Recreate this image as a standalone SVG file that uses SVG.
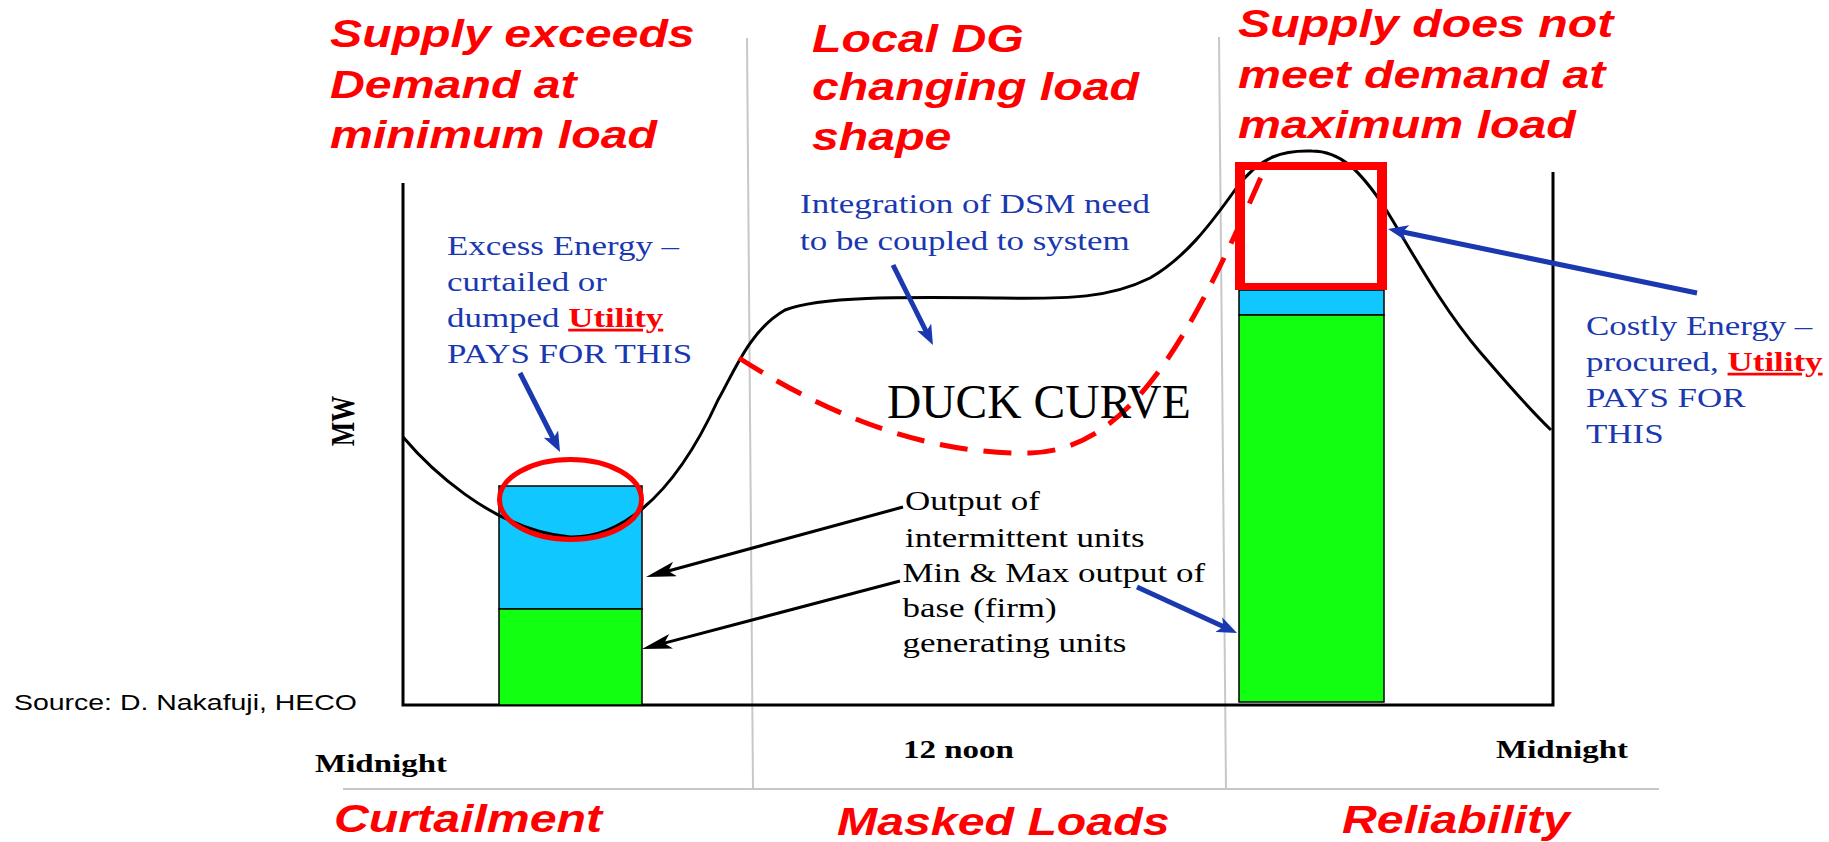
<svg xmlns="http://www.w3.org/2000/svg" width="1829" height="842" viewBox="0 0 1829 842">
<defs>
<style>
.title{font-family:"Liberation Sans",Arial,sans-serif;font-weight:bold;font-style:italic;font-size:38px;fill:#ff0000}
.blue{font-family:"Liberation Serif","Times New Roman",serif;font-size:27.5px;fill:#1a38b0}
.black{font-family:"Liberation Serif","Times New Roman",serif;font-size:27.5px;fill:#000}
.util{fill:#ff0000;font-weight:bold;text-decoration:underline}
.axislbl{font-family:"Liberation Serif","Times New Roman",serif;font-weight:bold;font-size:26px;fill:#000}
.divider{stroke:#c8c8c8;stroke-width:2;fill:none}
.barline{stroke:#000;stroke-width:1.5}
.cyan{fill:#10c8ff}
.green{fill:#12ff12}
.barrow{stroke:#1a38b0;stroke-width:5;fill:none}
.karrow{stroke:#000;stroke-width:3;fill:none}
</style>
<marker id="bhead" markerUnits="userSpaceOnUse" markerWidth="20" markerHeight="16" refX="6" refY="8" orient="auto"><path d="M0,0 L20,8 L0,16 L5,8 Z" fill="#1a38b0"/></marker>
<marker id="khead" markerUnits="userSpaceOnUse" markerWidth="30" markerHeight="15" refX="8" refY="7.5" orient="auto"><path d="M0,0 L30,7.5 L0,15 L7,7.5 Z" fill="#000"/></marker>
</defs>
<rect width="1829" height="842" fill="#fff"/>

<g id="dividers">
<path class="divider" d="M747 38 L753 789"/>
<path class="divider" d="M1219 37 L1226 789"/>
<path class="divider" d="M343 789 H1659"/>
</g>

<g id="axes">
<path d="M403 183 V705 H1553 V172" fill="none" stroke="#000" stroke-width="3"/>
</g>

<g id="bar-curtailment">
<rect class="cyan barline" x="499" y="486" width="143" height="123"/>
<rect class="green barline" x="499" y="609" width="143" height="96"/>
</g>
<g id="bar-reliability">
<rect class="cyan barline" x="1239" y="290" width="145" height="25"/>
<rect class="green barline" x="1239" y="315" width="145" height="387"/>
</g>

<g id="load-curve">
<path d="M403 437 C425 463 490 530 570 537 C615 538 670 505 718 400 C735 370 750 330 785 310 C820 296 900 297 1000 298 C1070 299 1110 298 1150 278 C1185 258 1210 225 1235 190 C1260 155 1285 150 1312 151 C1340 151 1360 170 1385 208 C1410 248 1440 305 1480 352 C1500 375 1525 405 1551 430" fill="none" stroke="#000" stroke-width="3"/>
</g>

<g id="duck-curve">
<path d="M739 358 C820 410 920 455 1030 453 C1130 450 1190 340 1265 168" fill="none" stroke="#ff0000" stroke-width="5" stroke-dasharray="28 16"/>
<text x="887" y="418" font-family="'Liberation Serif','Times New Roman',serif" font-size="47.5" fill="#000">DUCK CURVE</text>
</g>

<g id="excess-ellipse">
<ellipse cx="570.5" cy="499.5" rx="71" ry="40" fill="none" stroke="#ff0000" stroke-width="5"/>
</g>
<g id="costly-box">
<path d="M1235 162 H1387 V290 H1235 Z M1245 170 V283 H1377 V170 Z" fill="#ff0000" fill-rule="evenodd"/>
</g>

<g id="connectors">
<line class="barrow" x1="520" y1="373" x2="553.7" y2="439.5" marker-end="url(#bhead)"/>
<line class="barrow" x1="893" y1="265" x2="926.7" y2="332.5" marker-end="url(#bhead)"/>
<line class="barrow" x1="1697" y1="293" x2="1401.7" y2="231.8" marker-end="url(#bhead)"/>
<line class="barrow" x1="1137" y1="587" x2="1224.3" y2="627.1" marker-end="url(#bhead)"/>
<line class="karrow" x1="903" y1="507" x2="667.3" y2="571.2" marker-end="url(#khead)"/>
<line class="karrow" x1="900" y1="581" x2="663.3" y2="643.4" marker-end="url(#khead)"/>
</g>

<g id="title-left">
<text class="title" transform="translate(330 47) scale(1.27 1)"><tspan x="0" y="0">Supply exceeds</tspan><tspan x="0" y="51">Demand at</tspan><tspan x="0" y="101">minimum load</tspan></text>
</g>
<g id="title-middle">
<text class="title" transform="translate(812 52) scale(1.27 1)"><tspan x="0" y="0">Local DG</tspan><tspan x="0" y="48">changing load</tspan><tspan x="0" y="98">shape</tspan></text>
</g>
<g id="title-right">
<text class="title" transform="translate(1238 37) scale(1.27 1)"><tspan x="0" y="0">Supply does not</tspan><tspan x="0" y="51">meet demand at</tspan><tspan x="0" y="101">maximum load</tspan></text>
</g>

<g id="note-excess">
<text class="blue" transform="translate(447 255) scale(1.27 1)"><tspan x="0" y="0">Excess Energy –</tspan><tspan x="0" y="36">curtailed or</tspan><tspan x="0" y="72">dumped <tspan class="util">Utility</tspan></tspan><tspan x="0" y="108">PAYS FOR THIS</tspan></text>
</g>
<g id="note-dsm">
<text class="blue" transform="translate(800 213) scale(1.27 1)"><tspan x="0" y="0">Integration of DSM need</tspan><tspan x="0" y="37">to be coupled to system</tspan></text>
</g>
<g id="note-costly">
<text class="blue" transform="translate(1586 335) scale(1.27 1)"><tspan x="0" y="0">Costly Energy –</tspan><tspan x="0" y="36">procured, <tspan class="util">Utility</tspan></tspan><tspan x="0" y="72">PAYS FOR</tspan><tspan x="0" y="108">THIS</tspan></text>
</g>
<g id="note-output">
<text class="black" transform="translate(905 510) scale(1.27 1)"><tspan x="0" y="0">Output of</tspan><tspan x="0" y="37">intermittent units</tspan><tspan x="-2" y="72">Min &amp; Max output of</tspan><tspan x="-2" y="107">base (firm)</tspan><tspan x="-2" y="142">generating units</tspan></text>
</g>

<g id="axis-labels">
<text class="axislbl" font-size="29" text-anchor="middle" transform="translate(354 421) scale(1.27 1) rotate(-90)">MW</text>
<text class="axislbl" transform="translate(315 772) scale(1.27 1)">Midnight</text>
<text class="axislbl" transform="translate(903 758) scale(1.27 1)">12 noon</text>
<text class="axislbl" transform="translate(1496 758) scale(1.27 1)">Midnight</text>
</g>

<g id="source">
<text transform="translate(14 710) scale(1.27 1)" font-family="'Liberation Sans',Arial,sans-serif" font-size="22.4" fill="#000">Source: D. Nakafuji, HECO</text>
</g>

<g id="bottom-labels">
<text class="title" transform="translate(334 832) scale(1.27 1)">Curtailment</text>
<text class="title" transform="translate(837 835) scale(1.27 1)">Masked Loads</text>
<text class="title" transform="translate(1342 833) scale(1.27 1)">Reliability</text>
</g>
</svg>
